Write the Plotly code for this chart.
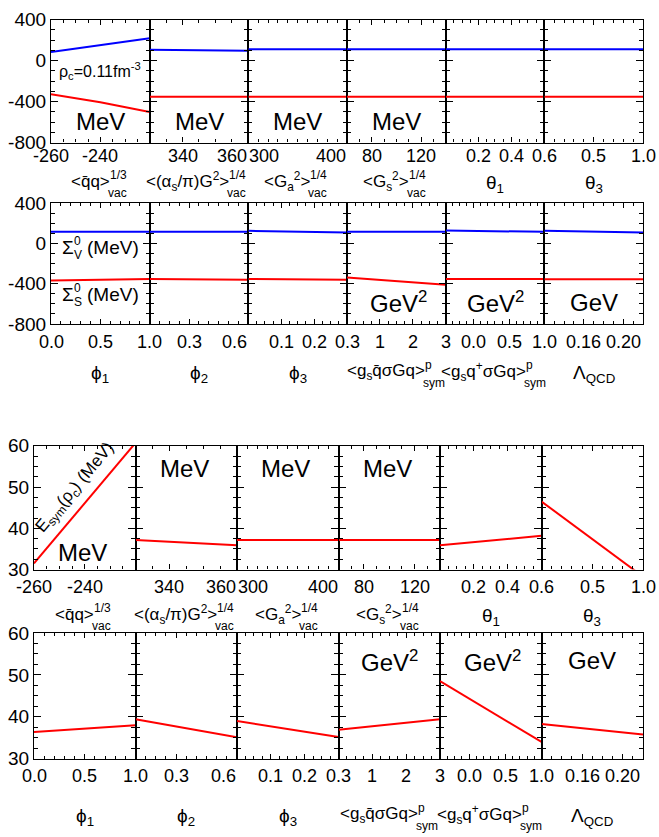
import plotly.graph_objects as go

W, H = 659, 837

# ---------------- data ----------------
qq_x = [-260, -240, -220]
qq_SigV = [86, 150, 219]
qq_SigS = [-327, -405, -502]
qq_Esym = [31.5, 46.1, 60.7]

aG_x = [330, 360]
aG_SigV = [108, 98]
aG_SigS = [-352, -352]
aG_Esym = [37.2, 35.9]

Ga_x = [300, 400]
Ga_SigV = [111, 111]
Ga_SigS = [-352, -352]
Ga_Esym = [37.2, 37.2]

Gs_x = [60, 140]
Gs_SigV = [111, 111]
Gs_SigS = [-352, -352]
Gs_Esym = [37.2, 37.2]

th1_x = [0.0, 0.6]
th1_SigV = [111, 111]
th1_SigS = [-352, -352]
th1_Esym = [35.9, 38.2]

th3_x = [0.0, 1.0]
th3_SigV = [111, 111]
th3_SigS = [-352, -352]
th3_Esym = [46.5, 28.3]

phi1_x = [0.0, 1.0]
phi1_SigV = [114, 114]
phi1_SigS = [-369, -353]
phi1_Esym = [36.4, 38.0]

phi2_x = [0.1, 0.6]
phi2_SigV = [114, 114]
phi2_SigS = [-353, -362]
phi2_Esym = [39.4, 35.1]

phi3_x = [0.0, 0.3]
phi3_SigV = [124, 108]
phi3_SigS = [-353, -362]
phi3_Esym = [39.0, 35.2]

gq_x = [0, 3]
gq_SigV = [114, 114]
gq_SigS = [-340, -411]
gq_Esym = [36.9, 39.4]

gqd_x = [-0.4, 1.0]
gqd_SigV = [127, 114]
gqd_SigS = [-353, -353]
gqd_Esym = [48.5, 34.0]

Lam_x = [0.12, 0.22]
Lam_SigV = [124, 108]
Lam_SigS = [-356, -356]
Lam_Esym = [38.3, 35.8]

# tick labels
qq_ticks, qq_labels = [-260, -240], ["-260", "-240"]
aG_ticks, aG_labels = [340, 360], ["340", "360"]
Ga_ticks, Ga_labels = [300, 400], ["300", "400"]
Gs_ticks, Gs_labels = [80, 120], ["80", "120"]
th1_ticks, th1_labels = [0.2, 0.4, 0.6], ["0.2", "0.4", "0.6"]
th3_ticks, th3_labels = [0.5, 1.0], ["0.5", "1.0"]
phi1_ticks, phi1_labels = [0.0, 0.5, 1.0], ["0.0", "0.5", "1.0"]
phi2_ticks, phi2_labels = [0.3, 0.6], ["0.3", "0.6"]
phi3_ticks, phi3_labels = [0.1, 0.2, 0.3], ["0.1", "0.2", "0.3"]
gq_ticks, gq_labels = [1, 2, 3], ["1", "2", "3"]
gqd_ticks, gqd_labels = [0.0, 0.5, 1.0], ["0.0", "0.5", "1.0"]
Lam_ticks, Lam_labels = [0.16, 0.20], ["0.16", "0.20"]

Sig_ticks = [-800, -400, 0, 400]
Sig_labels = ["-800", "-400", "0", "400"]
Esym_ticks = [30, 40, 50, 60]
Esym_labels = ["30", "40", "50", "60"]

# axis titles: (main text, stacked superscript, stacked subscript, approx main width px)
qbar = "q\u0304"
titles = {
    "qq": ("&lt;" + qbar + "q&gt;", "1/3", "vac", 38),
    "aG": ("&lt;(α<sub>s</sub>/π)G<sup>2</sup>&gt;", "1/4", "vac", 80),
    "Ga": ("&lt;G<sub>a</sub><sup>2</sup>&gt;", "1/4", "vac", 45),
    "Gs": ("&lt;G<sub>s</sub><sup>2</sup>&gt;", "1/4", "vac", 45),
    "th1": ("θ<sub>1</sub>", None, None, 0),
    "th3": ("θ<sub>3</sub>", None, None, 0),
    "phi1": ("ϕ<sub>1</sub>", None, None, 0),
    "phi2": ("ϕ<sub>2</sub>", None, None, 0),
    "phi3": ("ϕ<sub>3</sub>", None, None, 0),
    "gq": ("&lt;g<sub>s</sub>" + qbar + "σGq&gt;", "p", "sym", 76),
    "gqd": ("&lt;g<sub>s</sub>q<sup>+</sup>σGq&gt;", "p", "sym", 82),
    "Lam": ("Λ<sub>QCD</sub>", None, None, 0),
}

data = {
    "qq": (qq_x, qq_SigV, qq_SigS, qq_Esym, qq_ticks, qq_labels),
    "aG": (aG_x, aG_SigV, aG_SigS, aG_Esym, aG_ticks, aG_labels),
    "Ga": (Ga_x, Ga_SigV, Ga_SigS, Ga_Esym, Ga_ticks, Ga_labels),
    "Gs": (Gs_x, Gs_SigV, Gs_SigS, Gs_Esym, Gs_ticks, Gs_labels),
    "th1": (th1_x, th1_SigV, th1_SigS, th1_Esym, th1_ticks, th1_labels),
    "th3": (th3_x, th3_SigV, th3_SigS, th3_Esym, th3_ticks, th3_labels),
    "phi1": (phi1_x, phi1_SigV, phi1_SigS, phi1_Esym, phi1_ticks, phi1_labels),
    "phi2": (phi2_x, phi2_SigV, phi2_SigS, phi2_Esym, phi2_ticks, phi2_labels),
    "phi3": (phi3_x, phi3_SigV, phi3_SigS, phi3_Esym, phi3_ticks, phi3_labels),
    "gq": (gq_x, gq_SigV, gq_SigS, gq_Esym, gq_ticks, gq_labels),
    "gqd": (gqd_x, gqd_SigV, gqd_SigS, gqd_Esym, gqd_ticks, gqd_labels),
    "Lam": (Lam_x, Lam_SigV, Lam_SigS, Lam_Esym, Lam_ticks, Lam_labels),
}

# ---------------- styling / layout ----------------
minor_dtick = {"qq": 5, "aG": 5, "Ga": 10, "Gs": 10, "th1": 0.05, "th3": 0.1,
               "phi1": 0.1, "phi2": 0.05, "phi3": 0.025, "gq": 0.25, "gqd": 0.1, "Lam": 0.01}
anchors = {"aG": ["center", "right"], "Ga": ["left", "right"], "phi2": ["center", "right"]}

top_params = ["qq", "aG", "Ga", "Gs", "th1", "th3"]
bot_params = ["phi1", "phi2", "phi3", "gq", "gqd", "Lam"]

rows = [
    dict(params=top_params, qty="Sig", x0=51, x1=643, ytop=10, ybot=136, tick_dy=-13, title_dy=-39),
    dict(params=bot_params, qty="Sig", x0=51, x1=643, ytop=198, ybot=322, tick_dy=-18, title_dy=-48),
    dict(params=top_params, qty="Esym", x0=34, x1=643, ytop=447, ybot=574, tick_dy=-17, title_dy=-45),
    dict(params=bot_params, qty="Esym", x0=34, x1=643, ytop=639, ybot=768, tick_dy=-17, title_dy=-56),
]

FONT = "Liberation Sans, Arial, Helvetica, sans-serif"
BLUE = "#0000ff"
RED = "#ff0000"
LW = 1.2

fig = go.Figure()
layout = dict(
    width=W, height=H, autosize=False,
    margin=dict(l=0, r=0, t=0, b=0),
    paper_bgcolor="white", plot_bgcolor="white",
    showlegend=False,
    font=dict(family=FONT, size=18, color="black"),
)
annotations = []


def ax_suffix(k):
    return "" if k == 1 else str(k)


def add_title(s, spec, dy):
    main, sup, sub, mw = spec
    base = dict(xref="x" + s + " domain", yref="y" + s + " domain", x=0.5, y=0,
                showarrow=False, yanchor="middle", borderpad=0, borderwidth=0)
    if sup is None:
        annotations.append(dict(base, yshift=dy - 2, text=main, xanchor="center",
                                font=dict(family=FONT, size=19)))
        return
    sw = 6.5 * max(len(sup), len(sub))
    off = (mw - sw) / 2.0
    annotations.append(dict(base, yshift=dy, xshift=off, text=main, xanchor="right",
                            font=dict(family=FONT, size=17)))
    annotations.append(dict(base, yshift=dy + 7, xshift=off, text=sup, xanchor="left",
                            font=dict(family=FONT, size=12)))
    annotations.append(dict(base, yshift=dy - 11, xshift=off - 2, text=sub, xanchor="left",
                            font=dict(family=FONT, size=12)))


for r, row in enumerate(rows):
    w = (row["x1"] - row["x0"]) / 6.0
    for c, p in enumerate(row["params"]):
        k = r * 6 + c + 1
        s = ax_suffix(k)
        xs, sv, ss, es, tv, tl = data[p]
        xr = [xs[0], xs[-1]]
        if row["qty"] == "Sig":
            fig.add_trace(go.Scatter(x=xs, y=sv, mode="lines", line=dict(color=BLUE, width=2),
                                     xaxis="x" + s, yaxis="y" + s))
            fig.add_trace(go.Scatter(x=xs, y=ss, mode="lines", line=dict(color=RED, width=2),
                                     xaxis="x" + s, yaxis="y" + s))
            yr, yt, ytt, ymin = [-800, 400], Sig_ticks, Sig_labels, 100
        else:
            fig.add_trace(go.Scatter(x=xs, y=es, mode="lines", line=dict(color=RED, width=2),
                                     xaxis="x" + s, yaxis="y" + s))
            yr, yt, ytt, ymin = [30, 60], Esym_ticks, Esym_labels, 2.5
        xd = [(row["x0"] + c * w) / W, (row["x0"] + (c + 1) * w) / W]
        yd = [1 - row["ybot"] / H, 1 - row["ytop"] / H]
        layout["xaxis" + s] = dict(
            domain=xd, range=xr, anchor="y" + s, showgrid=False, zeroline=False,
            showline=True, linecolor="black", linewidth=LW, mirror="allticks",
            ticks="inside", ticklen=5, tickwidth=1.2, tickcolor="black",
            tickmode="array", tickvals=tv, showticklabels=False,
            minor=dict(ticks="inside", ticklen=3, tickwidth=1, tickcolor="black",
                       tickmode="linear", tick0=xr[0], dtick=minor_dtick[p]),
        )
        layout["yaxis" + s] = dict(
            domain=yd, range=yr, anchor="x" + s, showgrid=False, zeroline=False,
            showline=True, linecolor="black", linewidth=LW, mirror="allticks",
            ticks="inside", ticklen=7, tickwidth=1.2, tickcolor="black",
            tickmode="array", tickvals=yt, ticktext=ytt, showticklabels=(c == 0),
            tickfont=dict(family=FONT, size=19),
            minor=dict(ticks="inside", ticklen=4, tickwidth=1, tickcolor="black",
                       tickmode="linear", tick0=yr[0], dtick=ymin),
        )
        anc = anchors.get(p, ["center"] * len(tv))
        for v, t, a in zip(tv, tl, anc):
            annotations.append(dict(
                xref="x" + s, yref="y" + s + " domain", x=v, y=0, yshift=row["tick_dy"],
                text=t, showarrow=False, xanchor=a, yanchor="middle", borderpad=0,
                font=dict(family=FONT, size=18)))
        add_title(s, titles[p], row["title_dy"])


def panel_text(k, x, y, text, size, xanchor="center", angle=0, xshift=0, yshift=0):
    s = ax_suffix(k)
    annotations.append(dict(
        xref="x" + s + " domain", yref="y" + s + " domain", x=x, y=y, text=text,
        showarrow=False, xanchor=xanchor, yanchor="middle", textangle=angle,
        xshift=xshift, yshift=yshift, borderpad=0, borderwidth=0,
        font=dict(family=FONT, size=size)))


def sigma_label(k, x, y, sub):
    panel_text(k, x, y, "Σ", 19, xanchor="left")
    panel_text(k, x, y, "0", 12, xanchor="left", xshift=12, yshift=7)
    panel_text(k, x, y, sub, 12, xanchor="left", xshift=12, yshift=-7)
    panel_text(k, x, y, "(MeV)", 19, xanchor="left", xshift=25)


# row 1
panel_text(1, 0.08, 0.58, "ρ<sub>c</sub>=0.11fm<sup>-3</sup>", 16, xanchor="left")
for k in (1, 2, 3, 4):
    panel_text(k, 0.5, 0.17, "MeV", 24)
# row 2
sigma_label(7, 0.11, 0.63, "V")
sigma_label(7, 0.11, 0.24, "S")
panel_text(10, 0.52, 0.18, "GeV<sup>2</sup>", 24)
panel_text(11, 0.5, 0.18, "GeV<sup>2</sup>", 24)
panel_text(12, 0.5, 0.18, "GeV", 24)
# row 3
panel_text(13, 0.41, 0.66, "E<sub>sym</sub>(ρ<sub>c</sub>) (MeV)", 17, angle=-50)
panel_text(13, 0.48, 0.14, "MeV", 24)
for k in (14, 15, 16):
    panel_text(k, 0.48, 0.82, "MeV", 24)
# row 4
panel_text(22, 0.5, 0.78, "GeV<sup>2</sup>", 24)
panel_text(23, 0.52, 0.78, "GeV<sup>2</sup>", 24)
panel_text(24, 0.5, 0.78, "GeV", 24)

layout["annotations"] = annotations
fig.update_layout(**layout)
fig.write_html("out.html")
